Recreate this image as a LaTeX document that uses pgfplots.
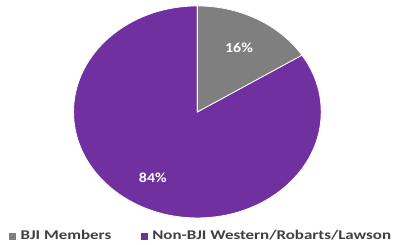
\documentclass[border=0pt]{standalone}
\usepackage{pgfplots}
\pgfplotsset{compat=1.18}
\usepackage{pgfplotstable}
\usepackage{fontspec}
\setmainfont{Carlito}
\newfontfamily\stfont[FakeStretch=1.15]{Carlito}
\newfontfamily\legfont[FakeStretch=1.27]{Carlito}
\definecolor{bjigray}{HTML}{7F7F7F}
\definecolor{bjipurple}{HTML}{7030A0}
\definecolor{legtext}{HTML}{404040}
\pgfplotstableread{
label value
BJI 16
NonBJI 84
}\piedata
\begin{document}
\pgfplotstablegetelem{0}{value}\of\piedata
\let\vaRaw\pgfplotsretval
\pgfplotstablegetelem{1}{value}\of\piedata
\let\vbRaw\pgfplotsretval
\pgfmathsetmacro\aEnd{90-\vaRaw*3.6}
\begin{tikzpicture}
\begin{axis}[
  width=396bp, height=247bp, scale only axis,
  xmin=0, xmax=396, ymin=0, ymax=247,
  axis lines=none, clip=false,
  legend style={at={(axis cs:7,9)}, anchor=west, draw=none, fill=none,
    legend columns=2, font=\legfont\bfseries\fontsize{13.5}{15}\selectfont\color{legtext},
    /tikz/every even column/.append style={column sep=25bp},
    nodes={inner xsep=5bp},
    inner sep=0pt},
  legend image code/.code={\fill[#1] (0cm,-3bp) rectangle (6bp,3bp);},
]
\addlegendimage{bjigray}
\addlegendentry{BJI Members}
\addlegendimage{bjipurple}
\addlegendentry{Non-BJI Western/Robarts/Lawson}
\path (axis cs:0,0) rectangle (axis cs:396,247);
\fill[bjipurple, draw=white, line width=0.8pt] (axis cs:197,134) -- (axis cs:197,241)
  arc[start angle=90, end angle=\aEnd-360, x radius=125, y radius=107] -- cycle;
\fill[bjigray, draw=white, line width=0.8pt] (axis cs:197,134) -- (axis cs:197,241)
  arc[start angle=90, end angle=\aEnd, x radius=125, y radius=107] -- cycle;
\node[text=white, font=\stfont\bfseries\fontsize{14}{16}\selectfont] at (axis cs:239,199) {\vaRaw\%};
\node[text=white, font=\stfont\bfseries\fontsize{14}{16}\selectfont] at (axis cs:152,68) {\vbRaw\%};
\end{axis}
\end{tikzpicture}
\end{document}
